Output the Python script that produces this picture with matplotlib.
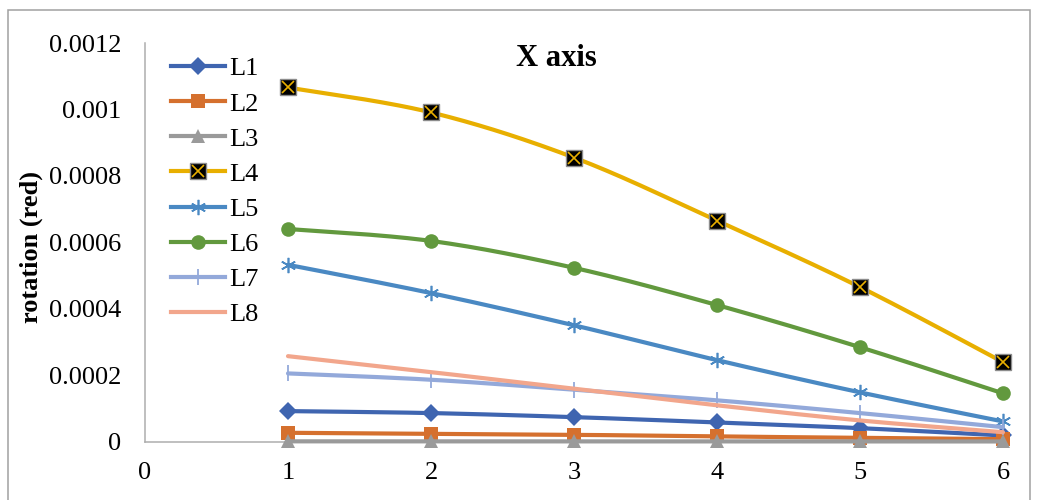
import numpy as np
import matplotlib
matplotlib.use("Agg")
import matplotlib.pyplot as plt
from matplotlib.lines import Line2D
from matplotlib.patches import Rectangle
from matplotlib.legend_handler import HandlerTuple

plt.rcParams['font.family'] = ['Liberation Serif', 'DejaVu Serif']

# ---- data ----
x_vals = [1, 2, 3, 4, 5, 6]
series_names = ["L1", "L2", "L3", "L4", "L5", "L6", "L7", "L8"]
L1 = [0.0000915, 0.0000856, 0.0000734, 0.0000574, 0.0000402, 0.0000181]
L2 = [0.0000262, 0.0000232, 0.0000202, 0.0000151, 0.0000112, 0.0000070]
L3 = [0.0000005, 0.0000005, 0.0000004, 0.0000003, 0.0000002, 0.0000001]
L4 = [0.001066, 0.000991, 0.000855, 0.000665, 0.000465, 0.000239]
L5 = [0.000532, 0.000447, 0.000350, 0.000245, 0.000148, 0.0000604]
L6 = [0.000640, 0.000604, 0.000523, 0.000411, 0.000284, 0.000145]
L7 = [0.000205, 0.000186, 0.000156, 0.000124, 0.0000856, 0.0000432]
L8 = [0.000257, 0.000209, 0.000159, 0.000109, 0.0000634, 0.0000280]
x_ticks = [0, 1, 2, 3, 4, 5, 6]
y_ticks = [0, 0.0002, 0.0004, 0.0006, 0.0008, 0.001, 0.0012]
y_tick_labels = ["0", "0.0002", "0.0004", "0.0006", "0.0008", "0.001", "0.0012"]
title_text = "X axis"
y_label = "rotation (red)"

colors = ["#3F65B0", "#D5702E", "#9A9A9A", "#E8AF00",
          "#4A89C3", "#62993E", "#93A9DA", "#F2A68C"]


def smooth(xs, ys, n=40):
    """Smooth curve through the points (cubic Bezier, Catmull-Rom tangents)."""
    p = np.column_stack([xs, ys]).astype(float)
    ext = np.vstack([p[0], p, p[-1]])
    out = []
    t = np.linspace(0, 1, n)[:, None]
    for i in range(len(p) - 1):
        p0, p1, p2, p3 = ext[i], ext[i + 1], ext[i + 2], ext[i + 3]
        c1 = p1 + (p2 - p0) / 6.0
        c2 = p2 - (p3 - p1) / 6.0
        seg = ((1 - t) ** 3) * p1 + 3 * ((1 - t) ** 2) * t * c1 \
            + 3 * (1 - t) * t ** 2 * c2 + t ** 3 * p2
        out.append(seg if i == 0 else seg[1:])
    out = np.vstack(out)
    return out[:, 0], out[:, 1]


W, H = 1038, 500
FS = 19
fig = plt.figure(figsize=(W / 100, H / 100), dpi=100)
ax = fig.add_axes([145 / W, 1 - 441.5 / H, (1003 - 145) / W, (441.5 - 43) / H])

lw = 3.0
data = [L1, L2, L3, L4, L5, L6, L7, L8]
marker_specs = [
    dict(marker="D", markersize=9.5, markeredgewidth=0),
    dict(marker="s", markersize=10, markeredgewidth=0),
    dict(marker="^", markersize=10.5, markeredgewidth=0),
    dict(marker="s", markersize=11, markerfacecolor="black",
         markeredgecolor="#8C8C8C", markeredgewidth=1.0),
    dict(marker=(6, 2, 0), markersize=11, markeredgewidth=1.2),
    dict(marker="o", markersize=10.5, markeredgewidth=0),
    dict(marker="|", markersize=11, markeredgewidth=1.3),
    None,
]

handles = []
for i, (name, ys, col) in enumerate(zip(series_names, data, colors)):
    sx, sy = smooth(x_vals, ys)
    ax.plot(sx, sy, color=col, lw=lw, solid_capstyle="round", clip_on=False,
            zorder=3 + i)
    spec = marker_specs[i]
    if spec is None:
        handles.append(Line2D([], [], color=col, lw=lw))
        continue
    mk = dict(spec)
    mk.setdefault("markerfacecolor", col)
    mk.setdefault("markeredgecolor", col)
    ax.plot(x_vals, ys, linestyle="none", clip_on=False, zorder=3 + i, **mk)
    h_line = Line2D([], [], color=col, lw=lw, **mk)
    if name == "L4":
        ax.plot(x_vals, ys, linestyle="none", marker="x", markersize=8.5,
                markeredgewidth=1.2, color=col, clip_on=False, zorder=3 + i)
        h_x = Line2D([], [], linestyle="none", marker="x", markersize=8.5,
                     markeredgewidth=1.2, color=col)
        handles.append((h_line, h_x))
    else:
        handles.append(h_line)

ax.set_xlim(0, 6)
ax.set_ylim(0, 0.0012)
ax.set_xticks(x_ticks)
ax.set_xticklabels([str(v) for v in x_ticks])
ax.set_yticks(y_ticks)
ax.set_yticklabels(y_tick_labels)
ax.tick_params(axis="both", length=0, labelsize=FS)
ax.tick_params(axis="y", pad=17)
ax.tick_params(axis="x", pad=15)
for s in ("top", "right"):
    ax.spines[s].set_visible(False)
for s in ("left", "bottom"):
    ax.spines[s].set_color("#ADADAD")
    ax.spines[s].set_linewidth(1.1)
ax.set_facecolor("none")

leg = fig.legend(handles, series_names, loc="upper left",
                 bbox_to_anchor=(171 / W, 1 - 57 / H), frameon=False,
                 fontsize=FS, labelspacing=0.44, handlelength=2.05,
                 handletextpad=0.15, borderpad=0, borderaxespad=0,
                 handler_map={tuple: HandlerTuple(ndivide=1)})
leg.set_zorder(20)

fig.text(556 / W, 1 - 58 / H, title_text, ha="center", va="center",
         fontsize=22, fontweight="bold")
fig.text(31 / W, 1 - 247 / H, y_label, ha="center", va="center",
         rotation=90, fontsize=FS, fontweight="bold")

# outer chart frame
fig.patches.append(Rectangle((7.5 / W, -0.05), (1030 - 7.5) / W, 1.05 - 10.5 / H,
                             transform=fig.transFigure, fill=False,
                             edgecolor="#A0A0A0", linewidth=1.1))

fig.savefig("out.png", dpi=100)
